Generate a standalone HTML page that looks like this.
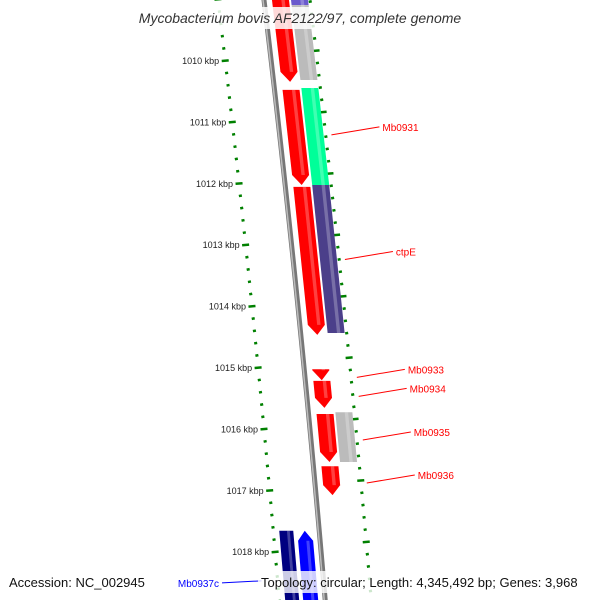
<!DOCTYPE html>
<html><head><meta charset="utf-8"><style>
html,body{margin:0;padding:0;background:#fff;}
svg{display:block;font-family:"Liberation Sans","DejaVu Sans",sans-serif;}
</style></head><body>
<svg id="map" width="600" height="600" viewBox="0 0 600 600">
<g id="rings"></g>
<g id="genes"></g>
<g id="labels"></g>
<rect x="120" y="7" width="360" height="22" fill="#fff" opacity="0.85"/>
<text x="300" y="23" text-anchor="middle" font-size="14" font-style="italic" fill="#333">Mycobacterium bovis AF2122/97, complete genome</text>
<rect x="258" y="571" width="337" height="22" fill="#fff" opacity="0.8"/>
<text x="9" y="587" font-size="13" fill="#111">Accession: NC_002945</text>
<text x="261" y="587" font-size="13" fill="#111">Topology: circular; Length: 4,345,492 bp; Genes: 3,968</text>
</svg>
<script>
// data
const majorTicks = [1010,1011,1012,1013,1014,1015,1016,1017,1018];
const tickLabels = ["1010 kbp","1011 kbp","1012 kbp","1013 kbp","1014 kbp","1015 kbp","1016 kbp","1017 kbp","1018 kbp"];
const geneNames = ["g1","g2","g3","Mb0933","Mb0934","Mb0935","Mb0936","p1","gray1","Mb0931","ctpE","gray2","navy1","Mb0937c"];
const geneStarts = [1008.84,1010.47,1012.05,1015.02,1015.21,1015.75,1016.60,1008.84,1009.09,1010.44,1012.02,1015.72,1017.65,1017.65];
const geneEnds   = [1010.34,1012.02,1014.46,1015.20,1015.65,1016.53,1017.07,1009.09,1010.31,1012.02,1014.43,1016.53,1018.94,1018.94];
const geneTracks = [1,1,1,1,1,1,1,2,2,2,2,2,-2,-1];
const geneColors = ["#ff0000","#ff0000","#ff0000","#ff0000","#ff0000","#ff0000","#ff0000","#6a5acd","#bbbbbb","#00ff99","#4b3f8a","#bbbbbb","#000080","#0000ff"];
const geneArrows = [1,1,1,1,1,1,1,0,0,0,0,0,0,-1];
const labelNames = ["Mb0931","ctpE","Mb0933","Mb0934","Mb0935","Mb0936","Mb0937c"];
const labelPos = [1011.17,1013.2,1015.12,1015.43,1016.14,1016.84,1018.45];

const NS="http://www.w3.org/2000/svg";
function ky(k){return 61+(k-1010)*61.4;}
function cx(y){return 264+0.12*y-0.00003*y*y;}
function mk(tag,attrs,parent){const e=document.createElementNS(NS,tag);for(const a in attrs)e.setAttribute(a,attrs[a]);parent.appendChild(e);return e;}
const rings=document.getElementById('rings'),genes=document.getElementById('genes'),labels=document.getElementById('labels');

// backbone
let pts=[];for(let y=-10;y<=610;y+=10)pts.push([cx(y),y]);
const bb=mk('polyline',{points:pts.map(p=>p.join(',')).join(' '),fill:'none',stroke:'#777','stroke-width':5},rings);


const bb2=mk('polyline',{points:pts.map(p=>(p[0]-1)+','+p[1]).join(' '),fill:'none',stroke:'#bbb','stroke-width':1.5},rings);



// ticks
for(let k=1009;k<=1019.01;k+=0.2){
  const kk=Math.round(k*5)/5;const major=Math.abs(kk-Math.round(kk))<0.01;
  const y=ky(kk);const len=major?7:3;
  const xl=cx(y)-46;
  const t=mk('line',{x1:xl-len/2,y1:y,x2:xl+len/2,y2:y-0.6,stroke:'#008000','stroke-width':2.5},rings);
  
  
  const yr=y-10;const xr=cx(yr)+46;
  const t2=mk('line',{x1:xr-len/2,y1:yr,x2:xr+len/2,y2:yr-0.6,stroke:'#008000','stroke-width':2.5},rings);
  
  
}
majorTicks.forEach((k,i)=>{
  const y=ky(k);
  const t=mk('text',{x:cx(y)-52,y:y+3,'text-anchor':'end','font-size':9,fill:'#222'},rings);
  t.textContent=tickLabels[i];
  
  
});

// genes
const trackOff={1:[8,25],2:[27,44],'-1':[-22,-7],'-2':[-40,-26]};
geneNames.forEach((n,i)=>{
  const o=trackOff[geneTracks[i]];let y1=ky(geneStarts[i]),y2=ky(geneEnds[i]);
  const a=geneArrows[i];const tip=10;
  let p=[];
  const L=y=>cx(y)+o[0],R=y=>cx(y)+o[1];
  if(a===1){p=[[L(y1),y1],[R(y1),y1],[R(y2-tip),y2-tip],[(L(y2)+R(y2))/2,y2],[L(y2-tip),y2-tip]];}
  else if(a===-1){p=[[(L(y1)+R(y1))/2,y1],[R(y1+tip),y1+tip],[R(y2),y2],[L(y2),y2],[L(y1+tip),y1+tip]];}
  else{p=[[L(y1),y1],[R(y1),y1],[R(y2),y2],[L(y2),y2]];}
  const g=mk('polygon',{points:p.map(q=>q.join(',')).join(' '),fill:geneColors[i]},genes);
  
  
  const ya=y1+(a===-1?tip:0),yb=y2-(a===1?tip:0);
  const w=(o[1]-o[0]);
  const s=mk('polygon',{points:[[L(ya)+w*0.55,ya],[L(ya)+w*0.75,ya],[L(yb)+w*0.75,yb],[L(yb)+w*0.55,yb]].map(q=>q.join(',')).join(' '),fill:'#fff',opacity:0.25},genes);
  
  
});

// labels
labelNames.forEach((n,i)=>{
  const y=ky(labelPos[i]);const blue=n==="Mb0937c";
  const col=blue?'#0000ff':'#ff0000';
  let x1,y1,x2,y2,tx,anchor;
  if(blue){x1=cx(y)-62;y1=y+1;x2=222;y2=y+3;tx=219;anchor='end';}
  else{x1=cx(y)+52;y1=y+2;x2=x1+48;y2=y-6;tx=x2+3;anchor='start';}
  const l=mk('line',{x1,y1,x2,y2,stroke:col,'stroke-width':1},labels);
  
  
  const t=mk('text',{x:tx,y:y2+4,'text-anchor':anchor,'font-size':10,fill:col},labels);
  t.textContent=n;
  
  
});
</script>
</body></html>
